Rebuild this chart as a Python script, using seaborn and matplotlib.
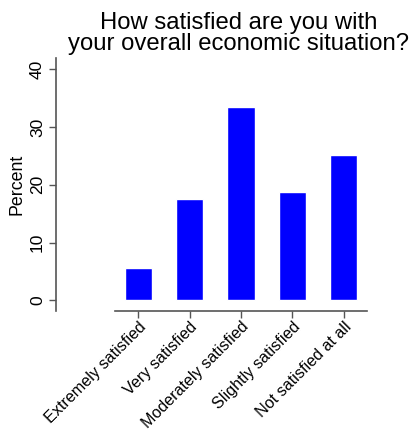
import pandas as pd
import matplotlib
matplotlib.use("Agg")
import matplotlib.pyplot as plt
import seaborn as sns

categories = ["Extremely satisfied", "Very satisfied", "Moderately satisfied",
              "Slightly satisfied", "Not satisfied at all"]
percent = [5.6, 17.6, 33.4, 18.8, 25.2]
y_ticks = [0, 10, 20, 30, 40]

df = pd.DataFrame({"answer": categories, "percent": percent})

sns.set_theme(style="white")
plt.rcParams['font.family'] = ['Liberation Sans', 'DejaVu Sans']
plt.rcParams['text.color'] = 'black'
plt.rcParams['axes.labelcolor'] = 'black'
plt.rcParams['xtick.color'] = 'black'
plt.rcParams['ytick.color'] = 'black'

fig = plt.figure(figsize=(4.17, 4.33), dpi=100)
ax = fig.add_axes([0.1343, 0.2818, 0.880 - 0.1343, 0.866 - 0.2818])

sns.barplot(data=df, x="answer", y="percent", color="#0000ff", saturation=1,
            width=0.53, ax=ax)

ax.set_xlim(-1.6, 4.45)
ax.set_ylim(-1.85, 41.96)
ax.set_yticks(y_ticks)
ax.set_yticklabels([str(t) for t in y_ticks], rotation=90, va="center", fontsize=12.5)
ax.set_xticks(range(len(categories)))
ax.set_xticklabels(categories, rotation=45, ha="right", rotation_mode="anchor", fontsize=11.6)
ax.set_xlabel("")
ax.set_ylabel("Percent", fontsize=12.8, labelpad=3)

for side in ["top", "right"]:
    ax.spines[side].set_visible(False)
for side in ["left", "bottom"]:
    ax.spines[side].set_color("#555555")
    ax.spines[side].set_linewidth(1.2)
ax.spines["bottom"].set_bounds(-0.45, 4.45)
ax.tick_params(axis="both", which="major", length=5, width=1, color="#555555",
               bottom=True, left=True, pad=3)
ax.tick_params(axis="x", pad=1)

fig.text(239 / 417, 1 - 12 / 433, "How satisfied are you with\nyour overall economic situation?",
         ha="center", va="top", fontsize=17.2, linespacing=0.92)

fig.savefig("out.png", dpi=100)
